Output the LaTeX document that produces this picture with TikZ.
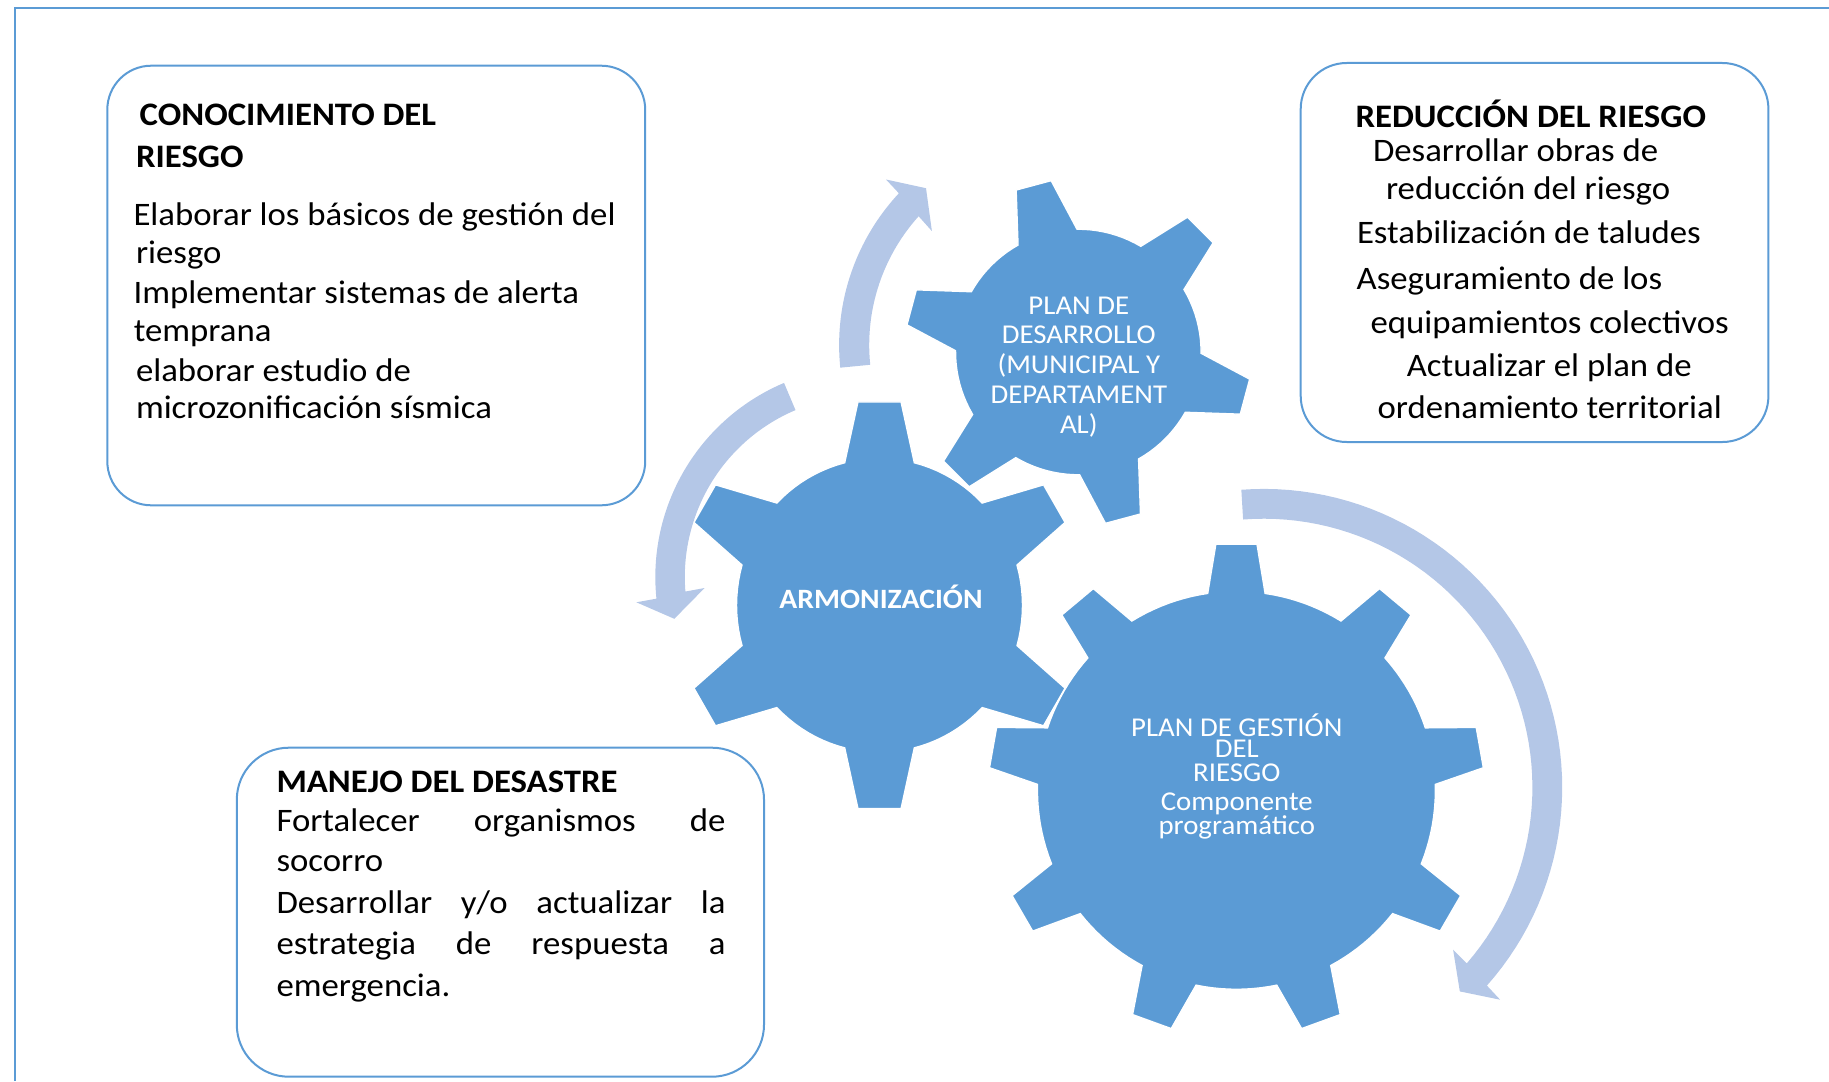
\documentclass[tikz,border=0pt]{standalone}
\usepackage{fontspec}
\setmainfont[FakeStretch=1.06]{Carlito}
\definecolor{gearblue}{HTML}{5B9BD5}
\definecolor{arrowblue}{HTML}{B4C7E7}
\tikzset{
  x=0.5pt,y=-0.5pt,
  gearfill/.style={fill=gearblue,draw=white,line width=0.7pt,line join=miter},
  bendarrow/.style={fill=arrowblue,draw=none},
  riskbox/.style={draw=gearblue,line width=1pt,fill=white},
  frameline/.style={draw=gearblue,line width=1pt},
  bodytext/.style={anchor=base west,inner sep=0pt,outer sep=0pt,yshift=-0.5pt,font=\fontsize{16.4}{19}\selectfont,text=black},
  headtext/.style={anchor=base west,inner sep=0pt,outer sep=0pt,yshift=-0.5pt,font=\fontsize{16.4}{19}\selectfont\bfseries,text=black},
  gearlabel/.style={anchor=base,inner sep=0pt,outer sep=0pt,yshift=-0.5pt,font=\fontsize{13.6}{16}\selectfont,text=white},
}
\newcommand\gearpath[8]{%
  \pgfmathsetmacro\gstep{360/#7}%
  \draw[gearfill] ({#1+#3*cos(#8-\gearhb)},{#2-#4*sin(#8-\gearhb)})
  \foreach \k [evaluate=\k as \a using #8+(\k-1)*\gstep] in {1,...,#7}{
    -- ({#1+#5*cos(\a-\gearht)},{#2-#6*sin(\a-\gearht)})
    -- ({#1+#5*cos(\a+\gearht)},{#2-#6*sin(\a+\gearht)})
    \foreach \j in {0,...,10}{
      -- ({#1+#3*cos(\a+\gearhb+\j*(\gstep-2*\gearhb)/10)},{#2-#4*sin(\a+\gearhb+\j*(\gstep-2*\gearhb)/10)})
    }
  } -- cycle;%
}
\begin{document}
\begin{tikzpicture}
\useasboundingbox (0,0) rectangle (1829,1081);
% page frame
\draw[frameline] (14.7,1081) -- (14.7,8) -- (1829,8);
% gears
\def\gearhb{14.4}\def\gearht{6}
\gearpath{1078.3}{352}{122.8}{122.8}{173.5}{173.5}{6}{45}
\def\gearhb{14.1}\def\gearht{6.1}
\gearpath{879.5}{605.3}{143}{147}{203}{204.5}{6}{30}
\def\gearhb{8.3}\def\gearht{4.76}
\gearpath{1236.4}{790.3}{199}{199}{248}{247}{9}{90}
% curved arrows
\fill[bendarrow] plot[domain=185.85:137,samples=40] ({1061.6+222.5*cos(\x)},{345-222.5*sin(\x)})
  -- (886,179.5) -- (926,188.2) -- (931.9,231.1)
  -- plot[domain=138:185.9,samples=40] ({1061.6+192.4*cos(\x)},{345-192.4*sin(\x)}) -- cycle;
\fill[bendarrow] plot[domain=112.9:185.9,samples=50] ({866+210.7*cos(\x)},{577-210.7*sin(\x)})
  -- (636.4,602.3) -- (674.3,618.8) -- (704.6,588)
  -- plot[domain=184.6:112.9,samples=50] ({866+181.2*cos(\x)},{577-181.2*sin(\x)}) -- cycle;
\fill[bendarrow] plot[domain=94.3:-41.6,samples=60] ({1263.7+298.5*cos(\x)},{787.4-298.5*sin(\x)})
  -- (1500.1,999.7) -- (1459.8,991.4) -- (1453.1,949.7)
  -- plot[domain=-40.9:94.4,samples=60] ({1263.7+268.7*cos(\x)},{787.4-268.7*sin(\x)}) -- cycle;
% boxes
\draw[riskbox,rounded corners=22pt] (107.3,65.7) rectangle (645.2,505.3);
\draw[riskbox,rounded corners=23pt] (1300.7,63) rectangle (1768.4,442);
\draw[riskbox,rounded corners=26pt] (236.8,747.7) rectangle (764,1076.7);
% gear labels
\node[gearlabel] (g1) at (1078.8,313.5) {PLAN DE};
\node[gearlabel] (g2) at (1078.8,342) {DESARROLLO};
\node[gearlabel] (g3) at (1078.8,372) {(MUNICIPAL Y};
\node[gearlabel] (g4) at (1078.8,402) {DEPARTAMENT};
\node[gearlabel] (g5) at (1078.8,432) {AL)};
\node[gearlabel,font=\fontsize{14}{16}\selectfont\bfseries] (arm) at (881,607.5) {ARMONIZACIÓN};
\node[gearlabel] (p1) at (1236.8,735.2) {PLAN DE GESTIÓN};
\node[gearlabel] (p2) at (1236.8,756.7) {DEL};
\node[gearlabel] (p3) at (1236.8,780.4) {RIESGO};
\node[gearlabel] (p4) at (1236.8,809.7) {Componente};
\node[gearlabel] (p5) at (1236.8,833) {programático};
% box 1 text
\node[headtext] (a1) at (139.7,125) {CONOCIMIENTO DEL};
\node[headtext] (a2) at (136,166) {RIESGO};
\node[bodytext] (a3) at (133.5,224.3) {Elaborar los básicos de gestión del};
\node[bodytext] (a4) at (136,262.3) {riesgo};
\node[bodytext] (a5) at (133.5,302.3) {Implementar sistemas de alerta};
\node[bodytext] (a6) at (133.8,340) {temprana};
\node[bodytext] (a7) at (136,380) {elaborar estudio de};
\node[bodytext] (a8) at (136,417.3) {microzonificación sísmica};
% box 2 text
\node[headtext] (b1) at (1355.5,126) {REDUCCIÓN DEL RIESGO};
\node[bodytext] (b2) at (1373,160.7) {Desarrollar obras de};
\node[bodytext] (b3) at (1386,198.3) {reducción del riesgo};
\node[bodytext] (b4) at (1357,242.7) {Estabilización de taludes};
\node[bodytext] (b5) at (1356.6,288.3) {Aseguramiento de los};
\node[bodytext] (b6) at (1370.6,332.7) {equipamientos colectivos};
\node[bodytext] (b7) at (1406.8,375) {Actualizar el plan de};
\node[bodytext] (b8) at (1377.6,417.3) {ordenamiento territorial};
% box 3 text
\node[headtext] (c1) at (276.5,791.7) {MANEJO DEL DESASTRE};
\node[bodytext] (c2) at (276.5,830) {\makebox[224.5pt][s]{Fortalecer\hfill organismos\hfill de}};
\node[bodytext] (c3) at (276.5,870) {socorro};
\node[bodytext] (c4) at (276.5,912.3) {\makebox[224.5pt][s]{Desarrollar\hfill y/o\hfill actualizar\hfill la}};
\node[bodytext] (c5) at (276.5,953.3) {\makebox[224.5pt][s]{estrategia\hfill de\hfill respuesta\hfill a}};
\node[bodytext] (c6) at (276.5,995) {emergencia.};
\end{tikzpicture}
\end{document}
